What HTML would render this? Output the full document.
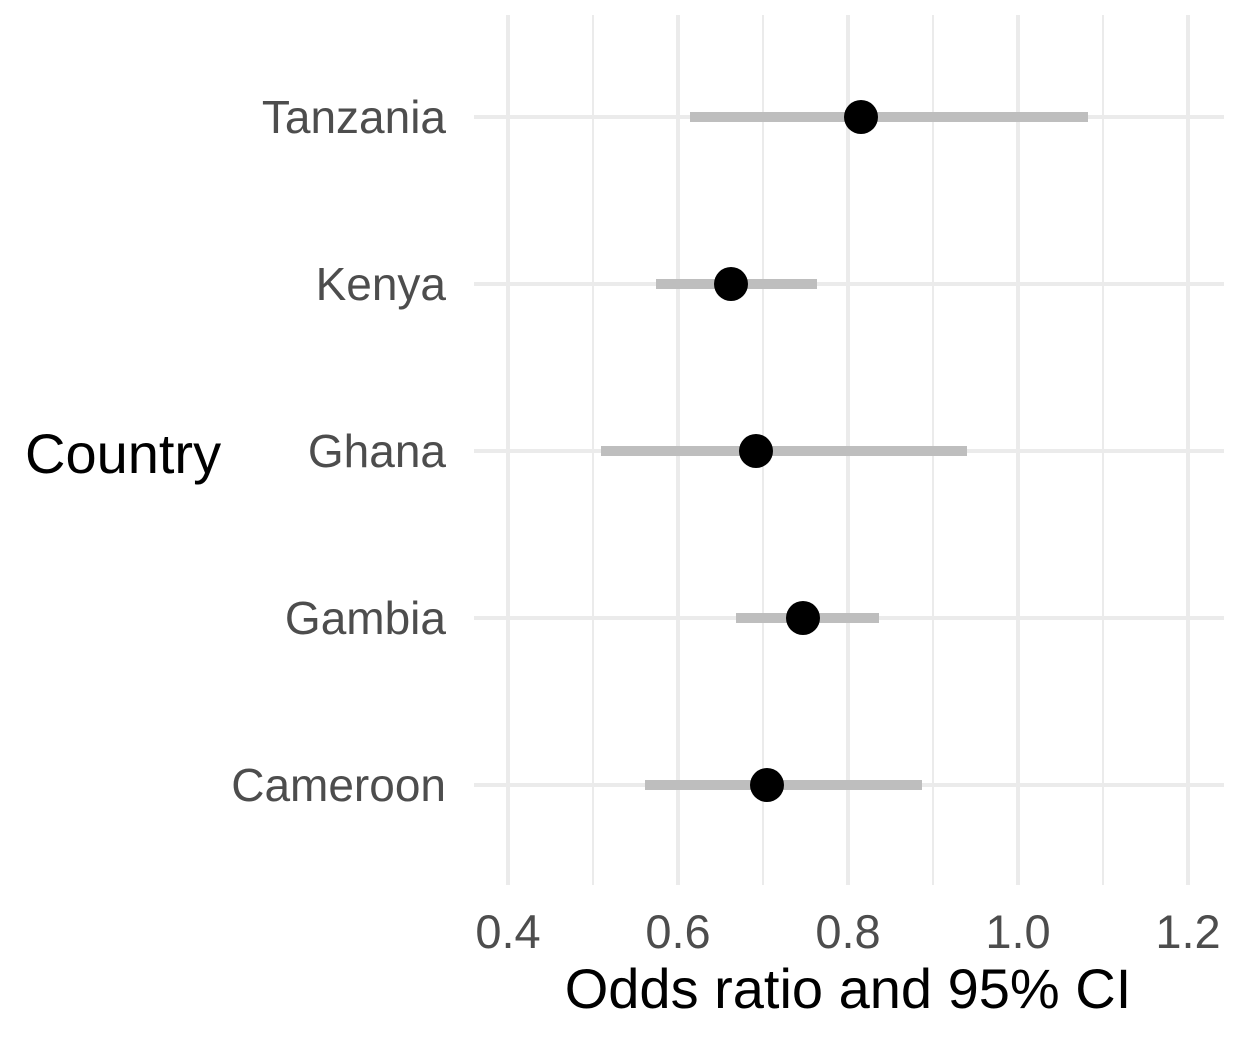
<!DOCTYPE html>
<html><head><style>html,body{margin:0;padding:0;background:#fff}</style></head><body>
<svg width="1248" height="1036" xmlns="http://www.w3.org/2000/svg" font-family="Liberation Sans, sans-serif">
<rect width="1248" height="1036" fill="#fff"/>
<g stroke="#ebebeb" stroke-width="2">
<line x1="593" y1="15" x2="593" y2="885"/><line x1="763" y1="15" x2="763" y2="885"/>
<line x1="933" y1="15" x2="933" y2="885"/><line x1="1103" y1="15" x2="1103" y2="885"/>
</g>
<g stroke="#ebebeb" stroke-width="4">
<line x1="508" y1="15" x2="508" y2="885"/><line x1="678" y1="15" x2="678" y2="885"/>
<line x1="848" y1="15" x2="848" y2="885"/><line x1="1018" y1="15" x2="1018" y2="885"/>
<line x1="1188" y1="15" x2="1188" y2="885"/>
<line x1="474" y1="117" x2="1224" y2="117"/><line x1="474" y1="284" x2="1224" y2="284"/>
<line x1="474" y1="451" x2="1224" y2="451"/><line x1="474" y1="618" x2="1224" y2="618"/>
<line x1="474" y1="785" x2="1224" y2="785"/>
</g>
<g stroke="#bebebe" stroke-width="10">
<line x1="690" y1="117" x2="1088" y2="117"/>
<line x1="656" y1="284" x2="817" y2="284"/>
<line x1="601" y1="451" x2="967" y2="451"/>
<line x1="736" y1="618" x2="879" y2="618"/>
<line x1="645" y1="785" x2="922" y2="785"/>
</g>
<g fill="#000">
<circle cx="861" cy="117" r="17"/><circle cx="731" cy="284" r="17"/>
<circle cx="756" cy="451" r="17"/><circle cx="803" cy="618" r="17"/>
<circle cx="767" cy="785" r="17"/>
</g>
<g fill="#4d4d4d" font-size="46" text-anchor="end">
<text x="446" y="133">Tanzania</text><text x="446" y="300">Kenya</text>
<text x="446" y="467">Ghana</text><text x="446" y="634">Gambia</text>
<text x="446" y="801">Cameroon</text>
</g>
<g fill="#4d4d4d" font-size="47" text-anchor="middle">
<text x="508" y="948">0.4</text><text x="678" y="948">0.6</text><text x="848" y="948">0.8</text>
<text x="1018" y="948">1.0</text><text x="1188" y="948">1.2</text>
</g>
<text x="848" y="1008" font-size="56" text-anchor="middle" fill="#000">Odds ratio and 95% CI</text>
<text x="25" y="473" font-size="56" fill="#000">Country</text>
</svg>
</body></html>
